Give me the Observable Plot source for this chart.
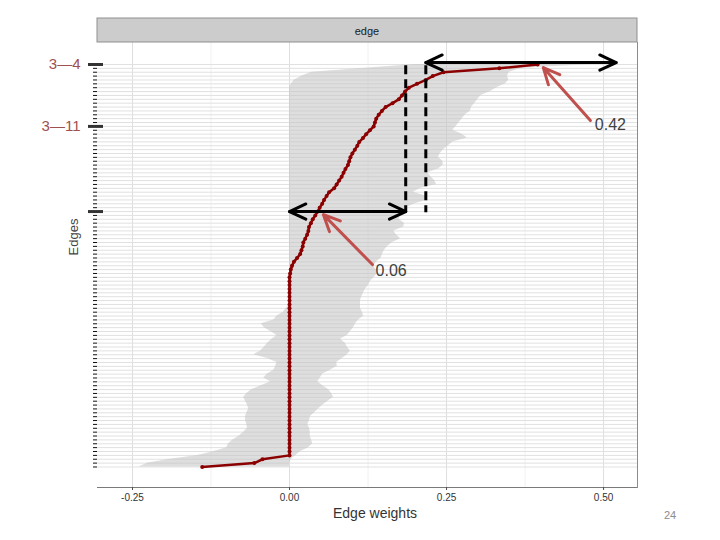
<!DOCTYPE html>
<html><head><meta charset="utf-8">
<script src="https://cdn.jsdelivr.net/npm/d3@7"></script>
<script src="https://cdn.jsdelivr.net/npm/@observablehq/plot@0.6"></script>
<style>body{margin:0;background:#fff;} #chart{width:720px;height:540px;}</style>
</head><body><div id="chart"></div>
<script>
// ---- data: edges ordered by sample edge weight (top = strongest) ----
const sampleWeights = [
 0.395,0.334,0.245,0.228,0.217,0.203,0.19,0.184,0.179,0.174,
 0.164,0.153,0.147,0.142,0.138,0.136,0.134,0.128,0.122,0.117,
 0.111,0.108,0.104,0.100,0.097,0.095,0.093,0.089,0.086,0.083,
 0.079,0.075,0.071,0.063,0.059,0.055,0.052,0.048,0.045,0.041,
 0.037,0.034,0.031,0.030,0.028,0.025,0.022,0.021,0.019,0.017,
 0.012,0.007,0.004,0.002,0.001,0,0,0,0,0,
 0,0,0,0,0,0,0,0,0,0,
 0,0,0,0,0,0,0,0,0,0,
 0,0,0,0,0,0,0,0,0,0,
 0,0,0,0,0,0,0,0,0,0,
 0,0,-0.043,-0.056,-0.139
];
const ciUpper = [
 0.48,0.37,0.35,0.347,0.349,0.344,0.33,0.32,0.305,0.30,
 0.295,0.29,0.288,0.28,0.275,0.27,0.265,0.26,0.275,0.283,
 0.26,0.253,0.245,0.24,0.237,0.244,0.245,0.237,0.22,0.225,
 0.231,0.234,0.209,0.197,0.217,0.22,0.20,0.185,0.182,0.177,
 0.174,0.183,0.182,0.166,0.17,0.177,0.164,0.156,0.151,0.148,
 0.146,0.139,0.134,0.137,0.14,0.135,0.129,0.126,0.121,0.118,
 0.115,0.113,0.113,0.113,0.116,0.118,0.11,0.105,0.102,0.097,
 0.092,0.081,0.089,0.092,0.097,0.092,0.084,0.075,0.076,0.065,
 0.053,0.049,0.045,0.053,0.062,0.067,0.07,0.061,0.053,0.046,
 0.04,0.033,0.032,0.029,0.032,0.033,0.033,0.035,0.037,0.03,
 0.018,0.01,0.003,0,0
];
const ciLower = [
 0.2,0.12,0.035,0.02,0.008,0.003,0,0,0,0,
 0,0,0,0,0,0,0,0,0,0,
 0,0,0,0,0,0,0,0,0,0,
 0,0,0,0,0,0,0,0,0,0,
 0,0,0,0,0,0,0,0,0,0,
 0,0,0,0,0,0,0,0,0,0,
 0,0,0,-0.005,-0.01,-0.02,-0.025,-0.045,-0.04,-0.03,
 -0.02,-0.028,-0.035,-0.04,-0.046,-0.057,-0.035,-0.02,-0.022,-0.025,
 -0.035,-0.041,-0.03,-0.045,-0.06,-0.068,-0.073,-0.07,-0.067,-0.065,
 -0.068,-0.07,-0.07,-0.068,-0.067,-0.073,-0.08,-0.09,-0.097,-0.1,
 -0.12,-0.146,-0.19,-0.225,-0.24
];
const xBreaks = [-0.25, 0, 0.25, 0.5];
const xTickLabels = ["-0.25", "0.00", "0.25", "0.50"];
const xMinorBreaks = [-0.125, 0.125, 0.375];
const markedRows = [0, 16, 38];
const markedLabels = ["3\u20144", "3\u201411", ""];

// annotations (data units: weight, edge row)
const bracketRow = [38, -0.5];
const bracketFrom = [0, 0.217];
const bracketTo = [0.185, 0.52];
const dashX = [0.185, 0.217];
const dashRowTop = 0.3, dashRowBottom = 38.3;
const calloutLabel = ["0.42", "0.06"];
const calloutFromX = [0.479, 0.132], calloutFromRow = [14.5, 51.7];
const calloutToX = [0.404, 0.054], calloutToRow = [0.8, 38.8];
const calloutTextX = [0.486, 0.137], calloutTextRow = [15.5, 53.2];

const rows = sampleWeights.map((s, i) => ({i, s, lo: ciLower[i], hi: ciUpper[i]}));
const rowIdx = rows.map(d => d.i);

const W = 720, H = 540, mL = 97, mR = 83, mT = 42, mB = 53;
const font = "'Liberation Sans', Arial, sans-serif";

const plot = Plot.plot({
  width: W, height: H, marginLeft: mL, marginRight: mR, marginTop: mT, marginBottom: mB,
  style: {fontFamily: font, background: "#fff", overflow: "visible"},
  x: {domain: [-0.3057, 0.554], label: null},
  y: {domain: [-5.68, 109.3], reverse: true, label: null},
  marks: [
    Plot.ruleX(xMinorBreaks, {stroke: "#f1f1f1", strokeWidth: 1}),
    Plot.ruleX(xBreaks, {stroke: "#dedede", strokeWidth: 1}),
    Plot.ruleY(rows, {y: "i", stroke: "#e1e1e1", strokeWidth: 1}),
    Plot.areaX(rows, {y: "i", x1: "lo", x2: "hi", fill: "#c2c2c2", fillOpacity: 0.55}),
    Plot.line(rows, {x: "s", y: "i", stroke: "#8b0000", strokeWidth: 2.5}),
    Plot.dot(rows, {x: "s", y: "i", r: 2, fill: "#8b0000"}),
    Plot.frame({anchor: "bottom", stroke: "#7a7a7a"}),
    Plot.frame({anchor: "right", stroke: "#8c8c8c"}),
    Plot.axisX({ticks: xBreaks, tickFormat: d => xTickLabels[xBreaks.indexOf(d)], tickSize: 3, tickPadding: 3,
      fontSize: 10, fill: "#333", stroke: "#4d4d4d", label: null}),
    Plot.axisY({ticks: rowIdx, tickFormat: () => "", tickSize: 4, stroke: "#111", label: null}),
    Plot.axisY({ticks: markedRows, tickFormat: d => markedLabels[markedRows.indexOf(d)], tickSize: 15, dx: 6,
      strokeWidth: 3, stroke: "#333", fill: "#a0504f", fontSize: 15, tickPadding: 8, label: null}),
    // dashed verticals
    Plot.ruleX(dashX, {x: d => d, y1: dashRowTop, y2: dashRowBottom, stroke: "#000", strokeWidth: 3, strokeDasharray: "9,5"}),
    // double-headed black arrows
    Plot.arrow(bracketRow, {x1: (d, i) => bracketFrom[i], x2: (d, i) => bracketTo[i], y1: d => d, y2: d => d,
      stroke: "#000", strokeWidth: 3, headLength: 9, headAngle: 50}),
    Plot.arrow(bracketRow, {x1: (d, i) => bracketTo[i], x2: (d, i) => bracketFrom[i], y1: d => d, y2: d => d,
      stroke: "#000", strokeWidth: 3, headLength: 9, headAngle: 50}),
    // red callouts
    Plot.arrow(calloutLabel, {x1: (d, i) => calloutFromX[i], y1: (d, i) => calloutFromRow[i],
      x2: (d, i) => calloutToX[i], y2: (d, i) => calloutToRow[i], stroke: "#c0504d", strokeWidth: 3,
      headLength: 9, headAngle: 50}),
    Plot.text(calloutLabel, {x: (d, i) => calloutTextX[i], y: (d, i) => calloutTextRow[i], text: d => d,
      textAnchor: "start", fontSize: 16, fill: "#404040"})
  ]
});

document.getElementById("chart").appendChild(plot);

// strip, axis titles, page number
const svg = d3.select(plot);
const g = svg.append("g").attr("font-family", font);
g.append("rect").attr("x", mL).attr("y", 18).attr("width", W - mL - mR).attr("height", mT - 18)
  .attr("fill", "#cccccc").attr("stroke", "#8f8f8f").attr("stroke-width", 1);
g.append("text").attr("x", (mL + W - mR) / 2).attr("y", 31).attr("dy", "0.35em")
  .attr("text-anchor", "middle").attr("font-size", 11).attr("fill", "#1a1a1a").text("edge");
g.append("text").attr("x", 375).attr("y", 513).attr("dy", "0.35em")
  .attr("text-anchor", "middle").attr("font-size", 14).attr("fill", "#333").text("Edge weights");
g.append("text").attr("transform", "translate(73,237) rotate(-90)").attr("dy", "0.35em")
  .attr("text-anchor", "middle").attr("font-size", 13).attr("fill", "#444").text("Edges");
g.append("text").attr("x", 670).attr("y", 515).attr("dy", "0.35em")
  .attr("text-anchor", "middle").attr("font-size", 11).attr("fill", "#8c8c8c").text("24");
</script>
</body></html>
